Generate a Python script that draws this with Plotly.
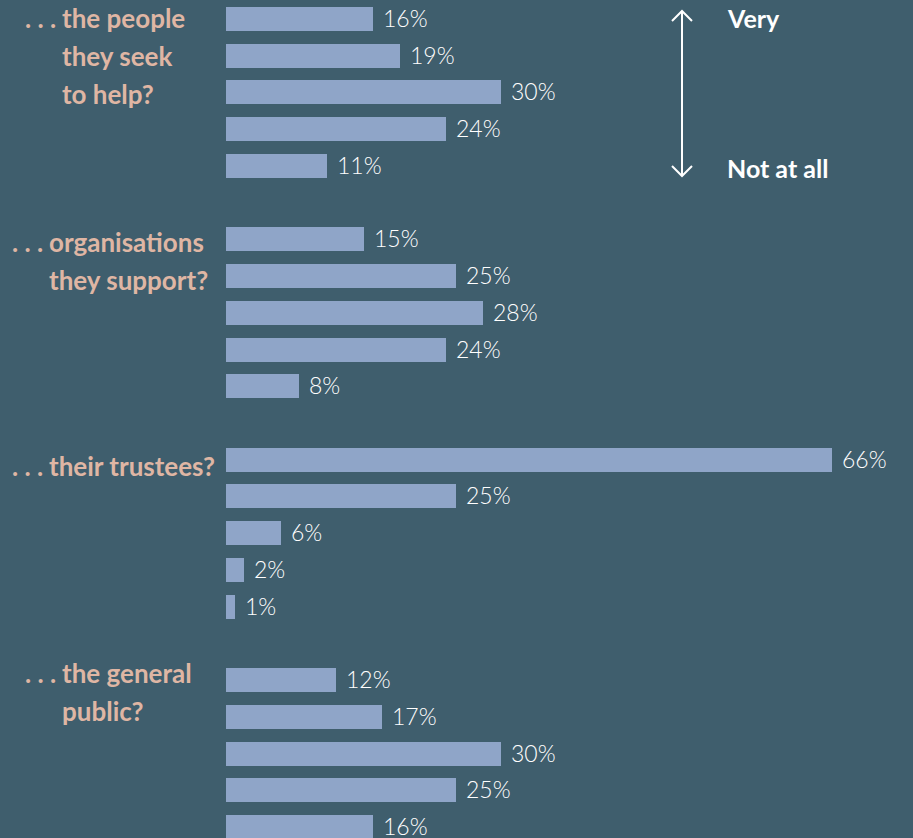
import plotly.graph_objects as go

# Survey: how much do charities feel accountable to ...
questions = [
    ["the people", "they seek", "to help?"],
    ["organisations", "they support?"],
    ["their trustees?"],
    ["the general", "public?"],
]
scale_top = "Very"
scale_bottom = "Not at all"

# Shares (%) for each of the five answer levels, Very -> Not at all
people_they_help = [16, 19, 30, 24, 11]
organisations_supported = [15, 25, 28, 24, 8]
trustees = [66, 25, 6, 2, 1]
general_public = [12, 17, 30, 25, 16]
groups = [people_they_help, organisations_supported, trustees, general_public]

BG = "#3f5e6d"
BAR = "#8fa5c8"
LABEL = "#dfb6a4"
W, H = 913, 838

# Each group takes five rows followed by one empty spacer row
rows, values = [], []
for g, vals in enumerate(groups):
    for i, v in enumerate(vals):
        rows.append(g * 6 + i)
        values.append(v)

fig = go.Figure()
fig.add_trace(go.Bar(
    x=values, y=rows, orientation="h", width=0.655,
    marker=dict(color=BAR, line=dict(width=0)),
    hoverinfo="skip",
))

annotations = []
# value labels just past the end of each bar
for r, v in zip(rows, values):
    annotations.append(dict(
        x=v, y=r, xref="x", yref="y", text=f"{v}%", showarrow=False,
        xanchor="left", yanchor="middle", xshift=8, yshift=1,
        font=dict(family="Lato", size=23, color="white", weight=300),
    ))

# question labels, with the leading dots hanging to the left
label_x = [60, 47, 47, 60]
label_y = [18, 242, 466, 673]
for g, lines in enumerate(questions):
    for k, line in enumerate(lines):
        py = label_y[g] + k * 38
        annotations.append(dict(
            x=label_x[g] / W, y=1 - py / H, xref="paper", yref="paper",
            text=line, showarrow=False, xanchor="left", yanchor="middle",
            font=dict(family="Lato", size=26, color=LABEL, weight="bold"),
        ))
        if k == 0:
            annotations.append(dict(
                x=(label_x[g] - 2) / W, y=1 - py / H, xref="paper", yref="paper",
                text=". . .", showarrow=False, xanchor="right", yanchor="middle",
                font=dict(family="Lato", size=26, color=LABEL, weight="bold"),
            ))

# scale legend text
for txt, py in [(scale_top, 18), (scale_bottom, 168)]:
    annotations.append(dict(
        x=725 / W, y=1 - py / H, xref="paper", yref="paper", text=txt,
        showarrow=False, xanchor="left", yanchor="middle",
        font=dict(family="Lato", size=25, color="white", weight="bold"),
    ))

def P(x, y):
    return f"{x / W:.5f} {1 - y / H:.5f}"

ax = 682
shapes = [
    dict(type="path", xref="paper", yref="paper",
         path=f"M {P(ax, 11)} L {P(ax, 176)}",
         line=dict(color="white", width=2)),
    dict(type="path", xref="paper", yref="paper",
         path=f"M {P(ax - 10, 21)} L {P(ax, 11)} L {P(ax + 10, 21)}",
         line=dict(color="white", width=2)),
    dict(type="path", xref="paper", yref="paper",
         path=f"M {P(ax - 10, 166)} L {P(ax, 176)} L {P(ax + 10, 166)}",
         line=dict(color="white", width=2)),
]

x0_px, px_per_pct = 226, 9.18
px_per_row = 36.73
fig.update_layout(
    width=W, height=H,
    margin=dict(l=0, r=0, t=0, b=0),
    paper_bgcolor=BG, plot_bgcolor=BG,
    showlegend=False,
    xaxis=dict(range=[-x0_px / px_per_pct, (W - x0_px) / px_per_pct],
               visible=False, fixedrange=True),
    yaxis=dict(range=[22 + (H - 827) / px_per_row, -19 / px_per_row],
               visible=False, fixedrange=True),
    annotations=annotations,
    shapes=shapes,
    bargap=0,
)

fig.write_html("out.html")
